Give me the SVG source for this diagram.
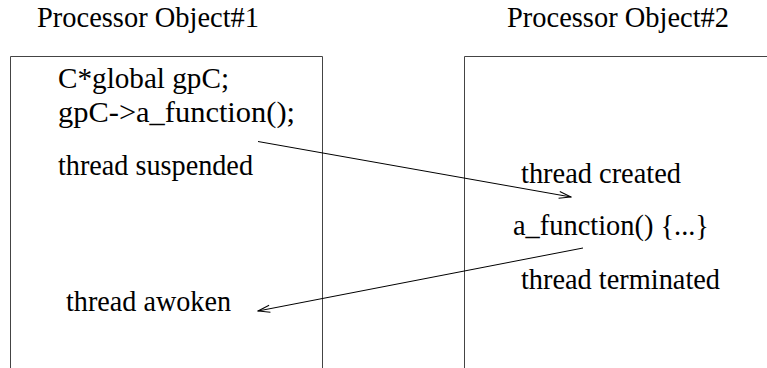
<svg xmlns="http://www.w3.org/2000/svg" width="767" height="368" viewBox="0 0 767 368">
<style>
text{font-family:"Liberation Serif","Times New Roman",serif;font-size:29px;fill:#000}
.box{fill:none;stroke:#444;stroke-width:1}
.conn{fill:none;stroke:#000;stroke-width:1}
</style>
<defs>
<marker id="arr" markerWidth="14" markerHeight="10" refX="13" refY="5" orient="auto" markerUnits="userSpaceOnUse">
<path d="M1,1.5 L13,5 L1,8.5" fill="none" stroke="#000" stroke-width="1"/>
</marker>
</defs>
<rect width="767" height="368" fill="#fff"/>
<g id="proc1">
<text x="37" y="27" textLength="222" lengthAdjust="spacingAndGlyphs">Processor Object#1</text>
<path class="box" d="M10.5,375 V56.5 H322.5 V375"/>
<text x="58" y="88" textLength="171" lengthAdjust="spacingAndGlyphs">C*global gpC;</text>
<text x="58" y="122" textLength="237" lengthAdjust="spacingAndGlyphs">gpC-&gt;a_function();</text>
<text x="58" y="175" textLength="195" lengthAdjust="spacingAndGlyphs">thread suspended</text>
<text x="66" y="311" textLength="165" lengthAdjust="spacingAndGlyphs">thread awoken</text>
</g>
<g id="proc2">
<text x="507" y="27" textLength="222" lengthAdjust="spacingAndGlyphs">Processor Object#2</text>
<path class="box" d="M464.5,375 V56.5 H775"/>
<text x="521" y="183" textLength="160" lengthAdjust="spacingAndGlyphs">thread created</text>
<text x="513" y="235" textLength="196" lengthAdjust="spacingAndGlyphs">a_function() {...}</text>
<text x="521" y="289" textLength="199" lengthAdjust="spacingAndGlyphs">thread terminated</text>
</g>
<g id="connectors">
<line class="conn" x1="258" y1="141.5" x2="571" y2="197" marker-end="url(#arr)"/>
<line class="conn" x1="583" y1="248" x2="258" y2="311" marker-end="url(#arr)"/>
</g>
</svg>
